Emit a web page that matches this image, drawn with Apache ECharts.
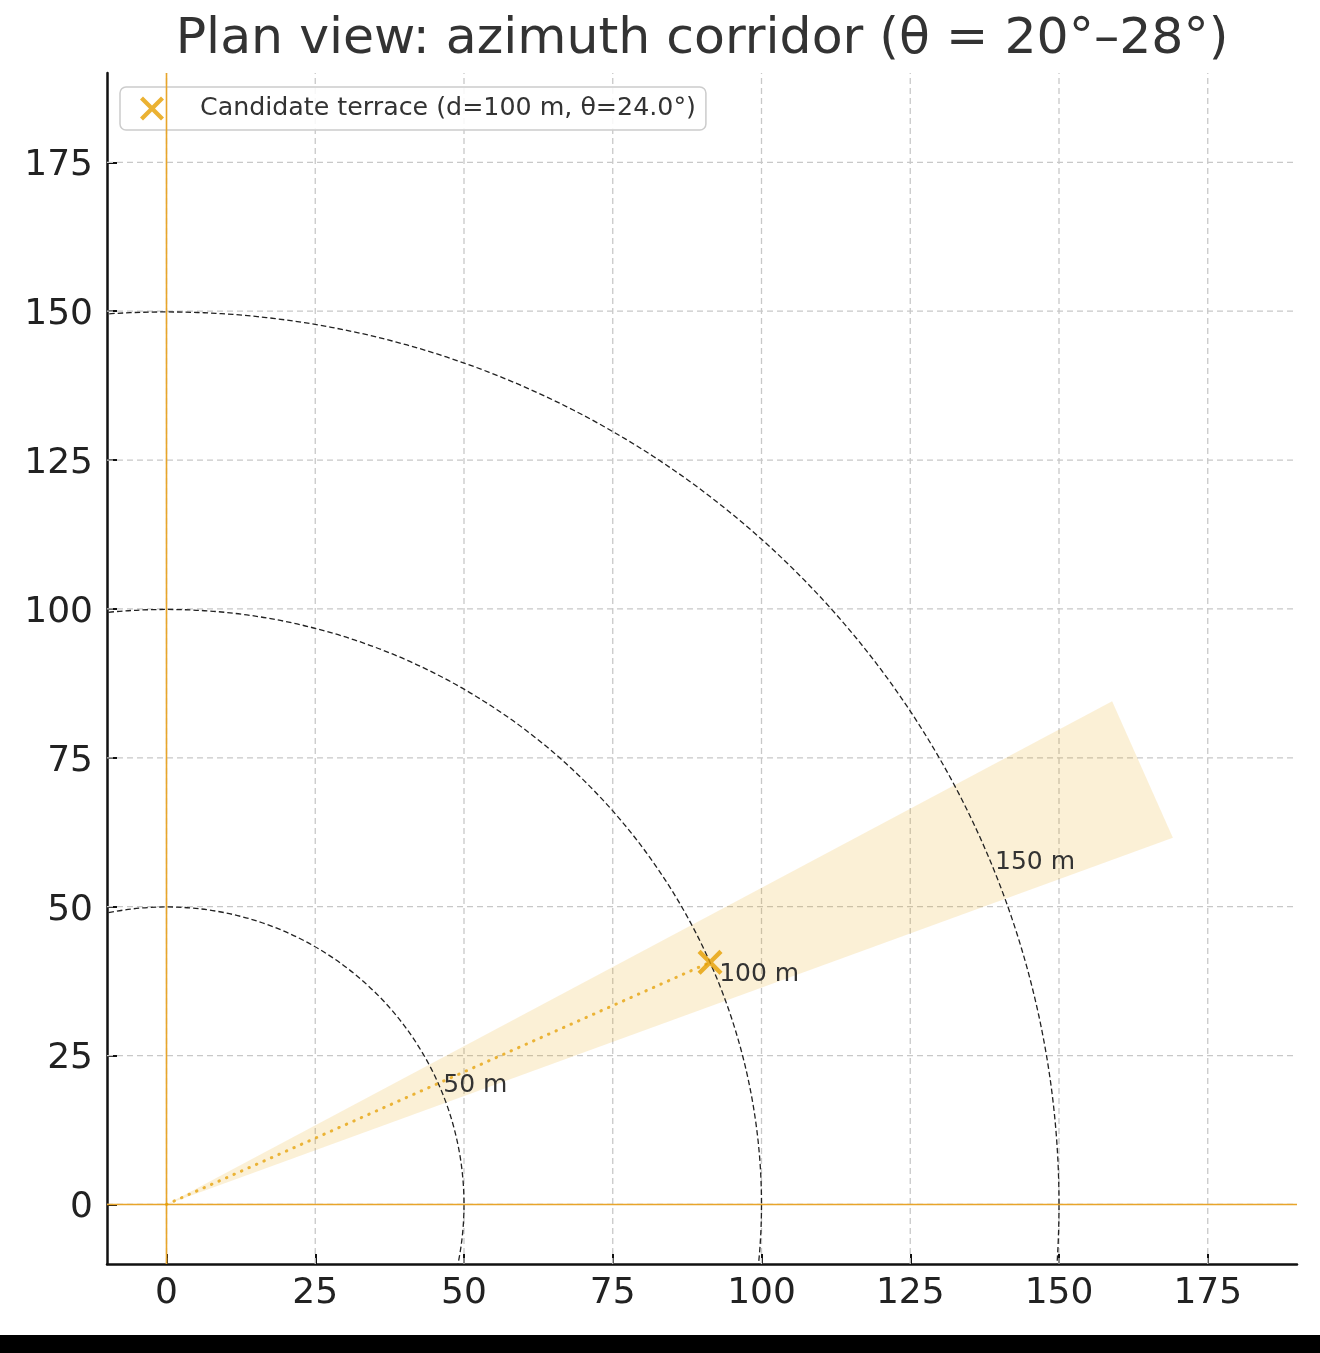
<!DOCTYPE html>
<html>
<head>
<meta charset="utf-8">
<script src="https://cdn.jsdelivr.net/npm/echarts@6/dist/echarts.min.js"></script>
<style>
  html, body { margin: 0; padding: 0; background: #fff; }
  #wrap { position: relative; width: 1320px; height: 1353px; }
  #chart { position: absolute; left: 0; top: 0; width: 1320px; height: 1353px; }
  #strip { position: absolute; left: 0; top: 1335px; width: 1320px; height: 18px; background: #000; }
</style>
</head>
<body>
<div id="wrap"><div id="chart"></div><div id="strip"></div></div>
<script>
// ---- data ----
const titleText = 'Plan view: azimuth corridor (θ = 20°–28°)';
const xTicks = [0, 25, 50, 75, 100, 125, 150, 175];
const yTicks = [0, 25, 50, 75, 100, 125, 150, 175];
const axisMin = -10;
const axisMax = 190;
const ringRadii = [50, 100, 150];
const ringLabels = ['50 m', '100 m', '150 m'];
const ringLabelX = [46.36, 92.72, 139.08];
const ringLabelY = [18.73, 37.46, 56.19];
const wedgeX = [0, 169.14, 158.93];
const wedgeY = [0, 61.56, 84.50];
const candidateName = 'Candidate terrace (d=100 m, θ=24.0°)';
const candidatePoint = [91.35, 40.67];
const rayX = [0, 91.35];
const rayY = [0, 40.67];

const ORANGE = '#E69F00';
const FONT = 'DejaVu Sans';
const XPATH = 'path://M2.5,0 L10,7.5 L17.5,0 L20,2.5 L12.5,10 L20,17.5 L17.5,20 L10,12.5 L2.5,20 L0,17.5 L7.5,10 L0,2.5 Z';

const chart = echarts.init(document.getElementById('chart'), null, { renderer: 'canvas' });

const axisCommon = {
  type: 'value',
  min: axisMin,
  max: axisMax,
  axisLine: { show: true, onZero: false, lineStyle: { color: '#111', width: 2.5 } },
  axisTick: { show: true, inside: true, length: 10, customValues: null, lineStyle: { color: '#111', width: 2 } },
  axisLabel: { show: true, color: '#222', fontSize: 36, fontFamily: FONT, customValues: null },
  splitLine: { show: false }
};

const xAxis = JSON.parse(JSON.stringify(axisCommon));
xAxis.axisTick.customValues = xTicks;
xAxis.axisLabel.customValues = xTicks;
xAxis.axisLabel.margin = 12;
const yAxis = JSON.parse(JSON.stringify(axisCommon));
yAxis.axisTick.customValues = yTicks;
yAxis.axisLabel.customValues = yTicks;
yAxis.axisLabel.margin = 14;
yAxis.axisLabel.formatter = '{a|{value}}';
yAxis.axisLabel.rich = { a: { fontSize: 36, fontFamily: FONT, color: '#222', padding: [7, 0, 0, 0] } };

const option = {
  animation: false,
  backgroundColor: '#fff',
  title: {
    text: titleText,
    left: 702,
    top: 14,
    padding: 0,
    textAlign: 'center',
    textStyle: { fontSize: 50.5, fontWeight: 'normal', color: '#333', fontFamily: FONT }
  },
  legend: {
    left: 120,
    top: 87,
    data: [{ name: candidateName, icon: XPATH }],
    itemWidth: 24,
    itemHeight: 24,
    padding: [9, 10, 9, 20],
    borderColor: '#cccccc',
    borderWidth: 1.5,
    borderRadius: 6,
    backgroundColor: 'rgba(255,255,255,0.85)',
    selectedMode: false,
    textStyle: { fontSize: 25.3, color: '#333', fontFamily: FONT, padding: [0, 0, 0, 31] }
  },
  grid: { left: 107, right: 23, top: 73, bottom: 89, containLabel: false },
  xAxis: xAxis,
  yAxis: yAxis,
  series: [
    { // vertical grid lines
      type: 'custom', silent: true, z: 1,
      data: xTicks.map(v => [v, 0]),
      renderItem: function (params, api) {
        const v = api.value(0);
        const p1 = api.coord([v, axisMin]);
        const p2 = api.coord([v, axisMax]);
        return { type: 'line', shape: { x1: p1[0], y1: p1[1], x2: p2[0], y2: p2[1] },
          style: { stroke: '#c8c8c8', lineWidth: 1.3, lineDash: [6, 4] } };
      }
    },
    { // horizontal grid lines
      type: 'custom', silent: true, z: 1,
      data: yTicks.map(v => [0, v]),
      renderItem: function (params, api) {
        const v = api.value(1);
        const p1 = api.coord([axisMin, v]);
        const p2 = api.coord([axisMax, v]);
        return { type: 'line', shape: { x1: p1[0], y1: p1[1], x2: p2[0], y2: p2[1] },
          style: { stroke: '#c8c8c8', lineWidth: 1.3, lineDash: [6, 4] } };
      }
    },
    { // corridor wedge
      type: 'custom', silent: true, z: 2,
      data: [[0, 0]],
      renderItem: function (params, api) {
        const pts = wedgeX.map((x, i) => api.coord([x, wedgeY[i]]));
        return { type: 'polygon', shape: { points: pts },
          style: { fill: 'rgba(230,159,0,0.16)', stroke: 'none' } };
      }
    },
    { // range rings
      type: 'custom', silent: true, z: 3, clip: true,
      data: ringRadii.map(r => [0, 0, r]),
      renderItem: function (params, api) {
        const c = api.coord([0, 0]);
        const rp = api.size([api.value(2), 0])[0];
        return { type: 'circle', shape: { cx: c[0], cy: c[1], r: rp },
          style: { fill: 'none', stroke: '#222', lineWidth: 1.3, lineDash: [5.5, 3] } };
      }
    },
    { // ring labels
      type: 'custom', silent: true, z: 6,
      data: ringLabelX.map((x, i) => [x, ringLabelY[i], i]),
      renderItem: function (params, api) {
        const p = api.coord([api.value(0), api.value(1)]);
        return { type: 'text', x: p[0] + 1, y: p[1] - 7,
          style: { text: ringLabels[api.value(2)], fill: '#333', fontSize: 25, fontFamily: FONT,
            align: 'left', verticalAlign: 'middle' } };
      }
    },
    { // x = 0 line
      type: 'line', silent: true, z: 4, symbol: 'none',
      data: [[0, axisMin], [0, axisMax]],
      lineStyle: { color: '#E8A52A', width: 1.6 }
    },
    { // y = 0 line
      type: 'line', silent: true, z: 4, symbol: 'none',
      data: [[axisMin, 0], [axisMax, 0]],
      lineStyle: { color: '#E8A52A', width: 1.6 }
    },
    { // ray to candidate
      type: 'line', silent: true, z: 5, symbol: 'none',
      data: rayX.map((x, i) => [x, rayY[i]]),
      lineStyle: { color: ORANGE, width: 3, type: [0.5, 7.7], cap: 'round', opacity: 0.75 }
    },
    {
      name: candidateName,
      type: 'scatter', z: 7,
      data: [candidatePoint],
      symbol: XPATH,
      symbolSize: 25,
      itemStyle: { color: ORANGE }
    }
  ]
};

chart.setOption(option);
</script>
</body>
</html>
